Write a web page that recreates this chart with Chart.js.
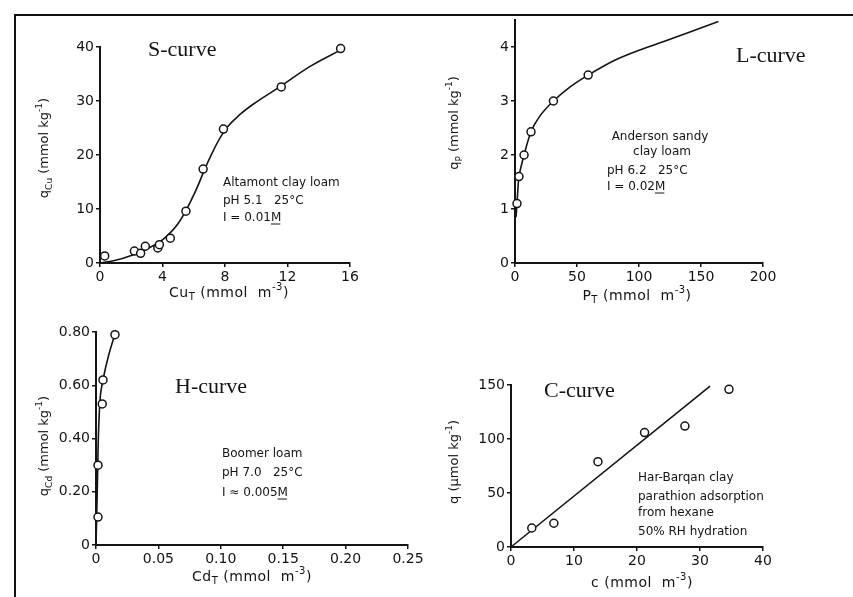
<!DOCTYPE html>
<html>
<head>
<meta charset="utf-8">
<script src="https://cdn.jsdelivr.net/npm/chart.js@4.4.1/dist/chart.umd.min.js"></script>
<style>
  html, body { margin: 0; padding: 0; background: #fff; }
  #wrap { position: relative; width: 853px; height: 597px; overflow: hidden; }
  #wrap canvas { position: absolute; left: 0; top: 0; }
  #frame { position: absolute; left: 14px; top: 14px; width: 839px; height: 583px;
           border-left: 2px solid #111; border-top: 2px solid #111; }
</style>
</head>
<body>
<div id="wrap">
  <div id="frame"></div>
  <canvas id="cS" width="853" height="597"></canvas>
  <canvas id="cL" width="853" height="597"></canvas>
  <canvas id="cH" width="853" height="597"></canvas>
  <canvas id="cC" width="853" height="597"></canvas>
</div>
<script>
// S-curve: Cu on Altamont clay loam
const sPointsX = [0.3, 2.2, 2.6, 2.9, 3.7, 3.8, 4.5, 5.5, 6.6, 7.9, 11.6, 15.4];
const sPointsY = [1.3, 2.2, 1.8, 3.1, 2.8, 3.4, 4.6, 9.6, 17.4, 24.8, 32.6, 39.7];
const sCurveX = [0, 1, 2, 3, 4, 5, 6, 7, 8, 9, 10, 11.6, 13.5, 15.5];
const sCurveY = [0, 0.5, 1.4, 2.6, 4.3, 7.3, 12.6, 19.3, 24.6, 27.6, 29.8, 32.8, 36.5, 39.6];
const sXTicks = [0, 4, 8, 12, 16];
const sXLabels = ['0', '4', '8', '12', '16'];
const sYTicks = [0, 10, 20, 30, 40];
const sYLabels = ['0', '10', '20', '30', '40'];

// L-curve: P on Anderson sandy clay loam
const lPointsX = [1.6, 3.2, 7.3, 12.9, 31, 59];
const lPointsY = [1.1, 1.6, 2.0, 2.43, 3.0, 3.48];
const lCurveX = [0.8, 1.6, 3.2, 7.3, 12.9, 20, 31, 45, 59, 80, 100, 120, 140, 164];
const lCurveY = [0.85, 1.1, 1.6, 2.0, 2.43, 2.72, 3.0, 3.27, 3.48, 3.75, 3.94, 4.1, 4.27, 4.47];
const lXTicks = [0, 50, 100, 150, 200];
const lXLabels = ['0', '50', '100', '150', '200'];
const lYTicks = [0, 1, 2, 3, 4];
const lYLabels = ['0', '1', '2', '3', '4'];

// H-curve: Cd on Boomer loam
const hPointsX = [0.0016, 0.0016, 0.005, 0.0056, 0.0152];
const hPointsY = [0.105, 0.30, 0.53, 0.62, 0.79];
const hCurveX = [0, 0.001, 0.002, 0.0035, 0.006, 0.01, 0.015];
const hCurveY = [0, 0.2, 0.42, 0.56, 0.63, 0.71, 0.79];
const hXTicks = [0, 0.05, 0.10, 0.15, 0.20, 0.25];
const hXLabels = ['0', '0.05', '0.10', '0.15', '0.20', '0.25'];
const hYTicks = [0, 0.2, 0.4, 0.6, 0.8];
const hYLabels = ['0', '0.20', '0.40', '0.60', '0.80'];

// C-curve: parathion on Har-Barqan clay
const cPointsX = [3.3, 6.8, 13.8, 21.2, 27.6, 34.6];
const cPointsY = [17.6, 22, 79, 106, 112, 146];
const cLineX = [0, 31.6];
const cLineY = [0, 149];
const cXTicks = [0, 10, 20, 30, 40];
const cXLabels = ['0', '10', '20', '30', '40'];
const cYTicks = [0, 50, 100, 150];
const cYLabels = ['0', '50', '100', '150'];

const ink = '#141414';
const sans = 'DejaVu Sans';
const serif = 'Liberation Serif';

const toXY = (xs, ys) => xs.map((x, i) => ({ x: x, y: ys[i] }));

// draw a line of text made of normal / sub / sup / underlined pieces
function drawRich(ctx, it) {
  const size = it.size;
  const small = Math.round(size * 0.72);
  const fam = it.family || sans;
  ctx.save();
  ctx.fillStyle = ink;
  ctx.strokeStyle = ink;
  ctx.textBaseline = 'middle';
  ctx.textAlign = 'left';
  ctx.letterSpacing = (it.spacing || 0) + 'px';
  const segs = it.parts.map(([t, m]) => {
    const fs = (m === 'sub' || m === 'sup') ? small : size;
    ctx.font = fs + 'px "' + fam + '"';
    return { t, m, fs, w: ctx.measureText(t).width };
  });
  const total = segs.reduce((a, s) => a + s.w, 0);
  ctx.translate(it.x, it.y);
  if (it.rotate) ctx.rotate(it.rotate);
  let x = it.align === 'center' ? -total / 2 : 0;
  segs.forEach(s => {
    ctx.font = s.fs + 'px "' + fam + '"';
    let dy = 0;
    if (s.m === 'sub') dy = size * 0.32;
    if (s.m === 'sup') dy = -size * 0.4;
    ctx.fillText(s.t, x, dy);
    if (s.m === 'u') {
      ctx.lineWidth = 1;
      ctx.beginPath();
      ctx.moveTo(x, size * 0.5);
      ctx.lineTo(x + s.w - 1, size * 0.5);
      ctx.stroke();
    }
    x += s.w;
  });
  ctx.restore();
}

function notes(items) {
  return {
    id: 'notes',
    afterDraw(chart) {
      items.forEach(it => drawRich(chart.ctx, it));
    }
  };
}

function axis(min, max, tickVals, tickLabels, size, isY) {
  return {
    type: 'linear',
    min: min,
    max: max,
    border: { display: true, color: ink, width: 2 },
    grid: { drawOnChartArea: false, drawTicks: true, tickLength: 4, color: ink, lineWidth: 1.5 },
    ticks: {
      color: ink,
      font: { family: sans, size: 14 },
      padding: 2,
      autoSkip: false,
      maxRotation: 0,
      callback: (v, i) => tickLabels[i]
    },
    afterBuildTicks: s => { s.ticks = tickVals.map(v => ({ value: v })); },
    afterFit: s => { if (isY) s.width = size; else s.height = size; }
  };
}

function panel(id, pts, curve, curveTension, xs, ys, pad, items) {
  return new Chart(document.getElementById(id), {
    type: 'scatter',
    data: {
      datasets: [
        {
          data: pts,
          order: 0,
          pointRadius: 4,
          pointBorderWidth: 1.5,
          pointBorderColor: ink,
          pointBackgroundColor: '#fff',
          showLine: false,
          clip: false
        },
        {
          data: curve,
          order: 1,
          showLine: true,
          borderColor: ink,
          borderWidth: 1.6,
          pointRadius: 0,
          tension: curveTension,
          clip: false
        }
      ]
    },
    options: {
      responsive: false,
      animation: false,
      devicePixelRatio: 1,
      layout: { padding: pad },
      plugins: { legend: { display: false }, tooltip: { enabled: false } },
      scales: { x: xs, y: ys }
    },
    plugins: [notes(items)]
  });
}

const up = -Math.PI / 2;

panel('cS', toXY(sPointsX, sPointsY), toXY(sCurveX, sCurveY), 0.4,
  axis(0, 16, sXTicks, sXLabels, 25, false),
  axis(0, 40, sYTicks, sYLabels, 40, true),
  { left: 60, right: 503, top: 47, bottom: 309 },
  [
    { x: 148, y: 50, size: 22, family: serif, parts: [['S-curve', '']] },
    { x: 223, y: 183, size: 12, parts: [['Altamont clay loam', '']] },
    { x: 223, y: 201, size: 12, parts: [['pH 5.1   25°C', '']] },
    { x: 223, y: 218, size: 12, parts: [['I = 0.01', ''], ['M', 'u']] },
    { x: 229, y: 293, size: 14, spacing: 0.5, align: 'center',
      parts: [['Cu', ''], ['T', 'sub'], [' (mmol  m', ''], ['-3', 'sup'], [')', '']] },
    { x: 45, y: 148, size: 13, align: 'center', rotate: up,
      parts: [['q', ''], ['Cu', 'sub'], [' (mmol kg', ''], ['-1', 'sup'], [')', '']] }
  ]);

panel('cL', toXY(lPointsX, lPointsY), toXY(lCurveX, lCurveY), 0.25,
  axis(0, 200, lXTicks, lXLabels, 25, false),
  axis(0, 4.5, lYTicks, lYLabels, 40, true),
  { left: 475, right: 90, top: 20, bottom: 309 },
  [
    { x: 736, y: 56, size: 22, family: serif, parts: [['L-curve', '']] },
    { x: 660, y: 137, size: 12, align: 'center', parts: [['Anderson sandy', '']] },
    { x: 662, y: 152, size: 12, align: 'center', parts: [['clay loam', '']] },
    { x: 607, y: 171, size: 12, parts: [['pH 6.2   25°C', '']] },
    { x: 607, y: 187, size: 12, parts: [['I = 0.02', ''], ['M', 'u']] },
    { x: 637, y: 296, size: 14, spacing: 0.5, align: 'center',
      parts: [['P', ''], ['T', 'sub'], [' (mmol  m', ''], ['-3', 'sup'], [')', '']] },
    { x: 455, y: 123, size: 13, align: 'center', rotate: up,
      parts: [['q', ''], ['P', 'sub'], [' (mmol kg', ''], ['-1', 'sup'], [')', '']] }
  ]);

panel('cH', toXY(hPointsX, hPointsY), toXY(hCurveX, hCurveY), 0.3,
  axis(0, 0.25, hXTicks, hXLabels, 25, false),
  axis(0, 0.8, hYTicks, hYLabels, 40, true),
  { left: 56, right: 445, top: 332, bottom: 27 },
  [
    { x: 175, y: 387, size: 22, family: serif, parts: [['H-curve', '']] },
    { x: 222, y: 454, size: 12, parts: [['Boomer loam', '']] },
    { x: 222, y: 473, size: 12, parts: [['pH 7.0   25°C', '']] },
    { x: 222, y: 493, size: 12, parts: [['I ≈ 0.005', ''], ['M', 'u']] },
    { x: 252, y: 577, size: 14, spacing: 0.5, align: 'center',
      parts: [['Cd', ''], ['T', 'sub'], [' (mmol  m', ''], ['-3', 'sup'], [')', '']] },
    { x: 45, y: 446, size: 13, align: 'center', rotate: up,
      parts: [['q', ''], ['Cd', 'sub'], [' (mmol kg', ''], ['-1', 'sup'], [')', '']] }
  ]);

panel('cC', toXY(cPointsX, cPointsY), toXY(cLineX, cLineY), 0,
  axis(0, 40, cXTicks, cXLabels, 25, false),
  axis(0, 150, cYTicks, cYLabels, 40, true),
  { left: 471, right: 90, top: 385, bottom: 25 },
  [
    { x: 544, y: 391, size: 22, family: serif, parts: [['C-curve', '']] },
    { x: 638, y: 478, size: 12, parts: [['Har-Barqan clay', '']] },
    { x: 638, y: 497, size: 12, parts: [['parathion adsorption', '']] },
    { x: 638, y: 513, size: 12, parts: [['from hexane', '']] },
    { x: 638, y: 532, size: 12, parts: [['50% RH hydration', '']] },
    { x: 642, y: 583, size: 14, spacing: 0.5, align: 'center',
      parts: [['c (mmol  m', ''], ['-3', 'sup'], [')', '']] },
    { x: 455, y: 462, size: 13, align: 'center', rotate: up,
      parts: [['q (µmol kg', ''], ['-1', 'sup'], [')', '']] }
  ]);
</script>
</body>
</html>
